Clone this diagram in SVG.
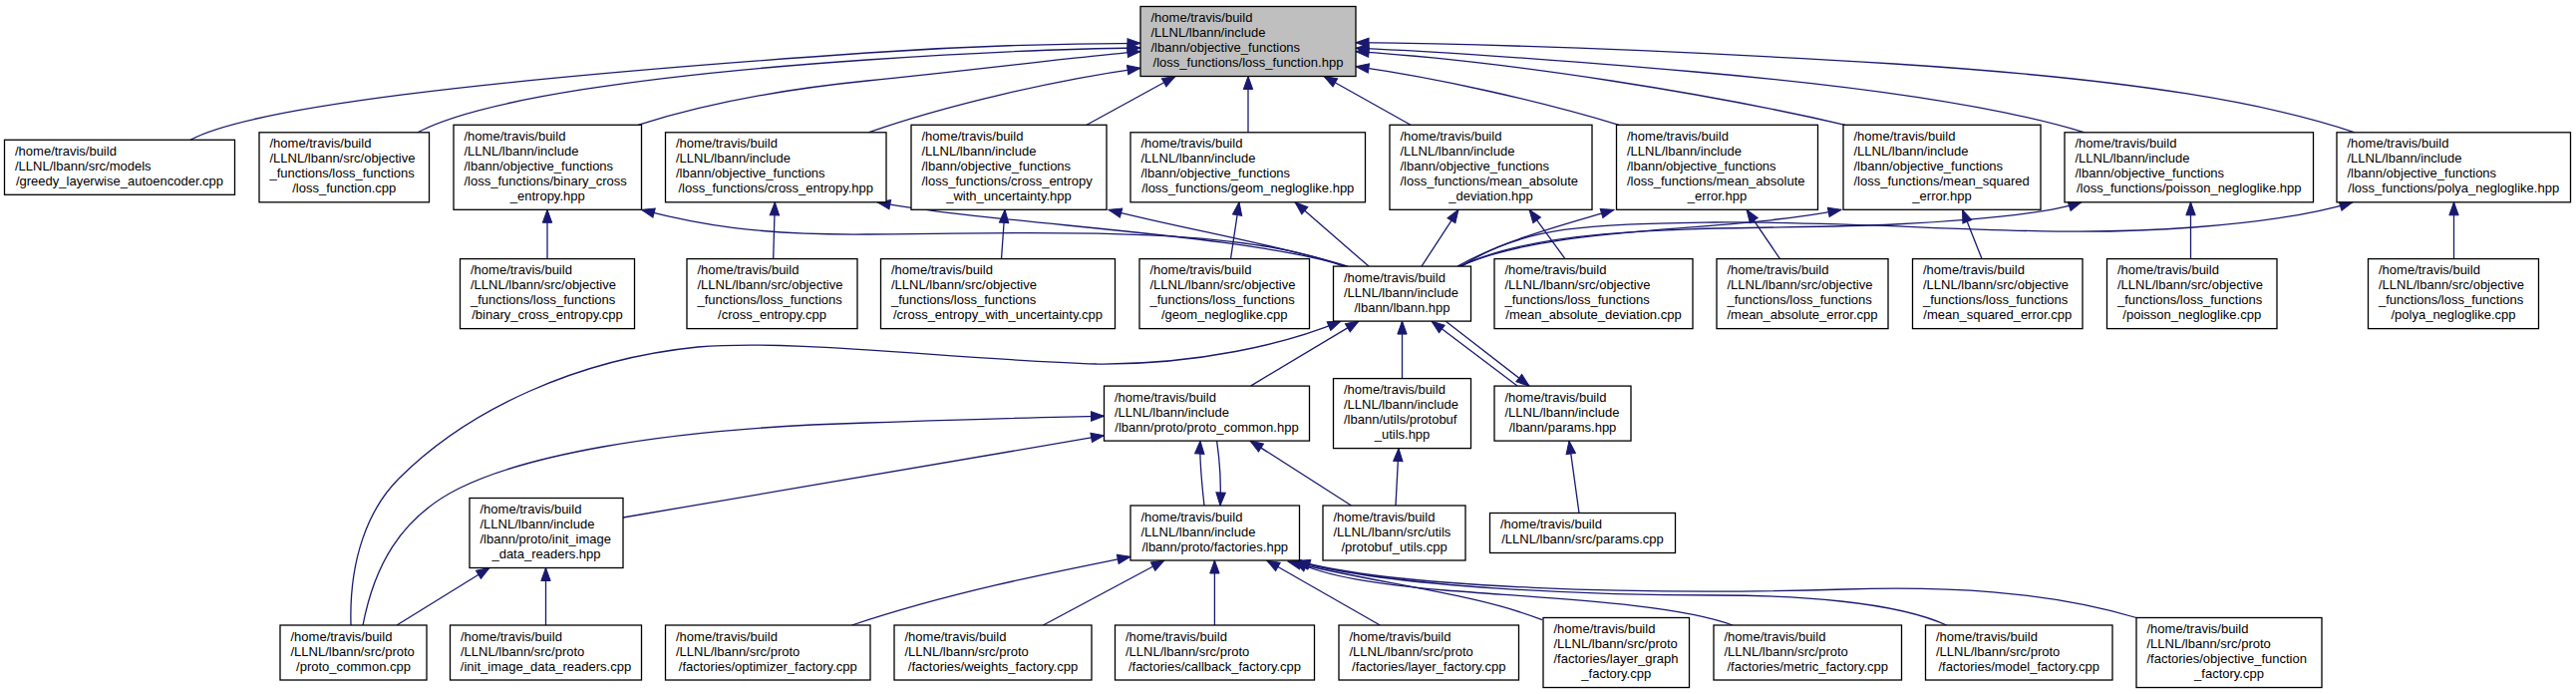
<svg xmlns="http://www.w3.org/2000/svg" width="2584" height="696" viewBox="0 0 2584 696">
<style>
.n rect{fill:#fff;stroke:#000;stroke-width:1.3}
.root rect{fill:#bfbfbf}
text{font-family:"Liberation Sans",Arial,Helvetica,sans-serif;font-size:13px;fill:#000}
.c{text-anchor:middle}
#edges path{fill:none;stroke:#191970;stroke-width:1.3;marker-end:url(#a)}
</style>
<defs>
<marker id="a" markerWidth="16" markerHeight="12" refX="13" refY="4.7" orient="auto" markerUnits="userSpaceOnUse" overflow="visible">
<path d="M0,0 L13,4.7 L0,9.4 z" fill="#191970" stroke="#191970" stroke-width="1"/>
</marker>
</defs>
<rect width="2584" height="696" fill="#fff"/>
<g id="edges">
<path d="M191,140.3 C250,108 480,80 870,53 C1000,44 1100,43.4 1144,43.3"/>
<path d="M419,132.8 C480,100 650,75 870,60 C990,52 1090,48.5 1144,48"/>
<path d="M640,125.3 C720,100 800,88 870,81 C980,70 1080,57 1144,51.7"/>
<path d="M871,132.8 C950,105 1060,80 1144,68.3"/>
<path d="M1090,125.3 L1179,76.5"/>
<path d="M1252,132.8 L1252,76.5"/>
<path d="M1415,125.3 L1328,76.5"/>
<path d="M1624,125.3 C1540,100 1440,78 1360,66.7"/>
<path d="M1851,125.3 C1720,95 1520,62 1360,51.7"/>
<path d="M2091,132.8 C2000,105 1850,85 1700,72 C1560,60 1440,51 1360,48.3"/>
<path d="M2362,132.8 C2280,105 2150,80 1900,64 C1700,52 1500,44 1360,42.7"/>
<path d="M549,259.6 L549,210.3"/>
<path d="M775.7,259.6 L777.3,202.8"/>
<path d="M1004.5,259.6 L1008,210.3"/>
<path d="M1234.5,259.6 L1243,202.8"/>
<path d="M1570,259.6 L1534,210.3"/>
<path d="M1785.5,259.6 L1752,210.3"/>
<path d="M1988,259.6 L1968.5,210.3"/>
<path d="M2197.5,259.6 L2197.5,202.8"/>
<path d="M2461.5,259.6 L2461.5,202.8"/>
<path d="M1348,267.1 C1250,230 1100,232 870,235 C760,236 700,225 643.5,210.3"/>
<path d="M1350,267.1 C1250,235 1000,225 880,202.8"/>
<path d="M1352,267.1 C1280,245 1180,228 1112,210.3"/>
<path d="M1373,267.1 L1299,202.8"/>
<path d="M1426,267.1 L1463,210.3"/>
<path d="M1462,267.1 C1510,240 1570,225 1619,210.3"/>
<path d="M1464,267.1 C1560,225 1720,235 1847,210.3"/>
<path d="M1465,267.1 C1560,220 1760,232 1900,225 C2000,220 2060,212 2088,202.8"/>
<path d="M1466,267.1 C1530,225 1600,225 1720,223 C1900,222 2050,240 2200,228 C2280,222 2330,212 2360,202.8"/>
<path d="M1254.5,387.1 L1363,322.1"/>
<path d="M352,627 C350,560 370,510 400,480 C470,410 580,360 700,348 C800,340 950,360 1100,365 C1200,366 1290,345 1345,322.1"/>
<path d="M1406.5,379.6 L1406.5,322.1"/>
<path d="M1522,387.1 L1436,322.1"/>
<path d="M1450,322.1 L1534,387.1"/>
<path d="M364,627 C375,570 400,520 460,490 C520,460 650,430 870,424 C960,421 1050,418 1107.5,417.3"/>
<path d="M398,627 L491,569.5"/>
<path d="M547.5,627 L547.5,569.5"/>
<path d="M625,519 L1107.5,436.7"/>
<path d="M1208,507 C1205,480 1203,460 1204,442.1"/>
<path d="M1220.6,442.1 C1224,465 1225,485 1224,507"/>
<path d="M1355.5,507 L1254,442.1"/>
<path d="M1400,507 L1403,449.6"/>
<path d="M1584,514.5 L1574,442.1"/>
<path d="M854.5,627 C950,595 1050,575 1134,558.3"/>
<path d="M1046.4,627 L1168,562"/>
<path d="M1218.4,627 L1218.4,562"/>
<path d="M1384.3,627 L1270.6,562"/>
<path d="M1547,621.7 C1480,595 1380,585 1292,563"/>
<path d="M1738,627 C1680,605 1550,600 1450,592 C1380,586 1330,578 1298,563"/>
<path d="M1952.6,627 C1900,603 1800,597 1720,597 C1600,597 1400,590 1300,563"/>
<path d="M2143,619.5 C2050,592 1950,588 1850,591 C1650,597 1400,590 1301,562.5"/>
</g>
<g id="n1" class="n root"><rect x="1144" y="6.5" width="216" height="70"/><text x="1154.5" y="22">/home/travis/build</text><text x="1154.5" y="37">/LLNL/lbann/include</text><text x="1154.5" y="52">/lbann/objective_functions</text><text class="c" x="1252" y="67">/loss_functions/loss_function.hpp</text></g>
<g id="n2" class="n"><rect x="4.5" y="140.3" width="231" height="55"/><text x="15" y="155.8">/home/travis/build</text><text x="15" y="170.8">/LLNL/lbann/src/models</text><text class="c" x="120" y="185.8">/greedy_layerwise_autoencoder.cpp</text></g>
<g id="n3" class="n"><rect x="260" y="132.8" width="170.5" height="70"/><text x="270.5" y="148.3">/home/travis/build</text><text x="270.5" y="163.3">/LLNL/lbann/src/objective</text><text x="270.5" y="178.3">_functions/loss_functions</text><text class="c" x="345.25" y="193.3">/loss_function.cpp</text></g>
<g id="n4" class="n"><rect x="455" y="125.3" width="188.5" height="85"/><text x="465.5" y="140.8">/home/travis/build</text><text x="465.5" y="155.8">/LLNL/lbann/include</text><text x="465.5" y="170.8">/lbann/objective_functions</text><text x="465.5" y="185.8">/loss_functions/binary_cross</text><text class="c" x="549.25" y="200.8">_entropy.hpp</text></g>
<g id="n5" class="n"><rect x="667.5" y="132.8" width="221.5" height="70"/><text x="678" y="148.3">/home/travis/build</text><text x="678" y="163.3">/LLNL/lbann/include</text><text x="678" y="178.3">/lbann/objective_functions</text><text class="c" x="778.25" y="193.3">/loss_functions/cross_entropy.hpp</text></g>
<g id="n6" class="n"><rect x="914" y="125.3" width="196" height="85"/><text x="924.5" y="140.8">/home/travis/build</text><text x="924.5" y="155.8">/LLNL/lbann/include</text><text x="924.5" y="170.8">/lbann/objective_functions</text><text x="924.5" y="185.8">/loss_functions/cross_entropy</text><text class="c" x="1012" y="200.8">_with_uncertainty.hpp</text></g>
<g id="n7" class="n"><rect x="1134" y="132.8" width="235.5" height="70"/><text x="1144.5" y="148.3">/home/travis/build</text><text x="1144.5" y="163.3">/LLNL/lbann/include</text><text x="1144.5" y="178.3">/lbann/objective_functions</text><text class="c" x="1251.75" y="193.3">/loss_functions/geom_negloglike.hpp</text></g>
<g id="n8" class="n"><rect x="1394" y="125.3" width="203" height="85"/><text x="1404.5" y="140.8">/home/travis/build</text><text x="1404.5" y="155.8">/LLNL/lbann/include</text><text x="1404.5" y="170.8">/lbann/objective_functions</text><text x="1404.5" y="185.8">/loss_functions/mean_absolute</text><text class="c" x="1495.5" y="200.8">_deviation.hpp</text></g>
<g id="n9" class="n"><rect x="1621.5" y="125.3" width="202" height="85"/><text x="1632" y="140.8">/home/travis/build</text><text x="1632" y="155.8">/LLNL/lbann/include</text><text x="1632" y="170.8">/lbann/objective_functions</text><text x="1632" y="185.8">/loss_functions/mean_absolute</text><text class="c" x="1722.5" y="200.8">_error.hpp</text></g>
<g id="n10" class="n"><rect x="1849" y="125.3" width="198" height="85"/><text x="1859.5" y="140.8">/home/travis/build</text><text x="1859.5" y="155.8">/LLNL/lbann/include</text><text x="1859.5" y="170.8">/lbann/objective_functions</text><text x="1859.5" y="185.8">/loss_functions/mean_squared</text><text class="c" x="1948" y="200.8">_error.hpp</text></g>
<g id="n11" class="n"><rect x="2071" y="132.8" width="249.5" height="70"/><text x="2081.5" y="148.3">/home/travis/build</text><text x="2081.5" y="163.3">/LLNL/lbann/include</text><text x="2081.5" y="178.3">/lbann/objective_functions</text><text class="c" x="2195.75" y="193.3">/loss_functions/poisson_negloglike.hpp</text></g>
<g id="n12" class="n"><rect x="2344" y="132.8" width="234.5" height="70"/><text x="2354.5" y="148.3">/home/travis/build</text><text x="2354.5" y="163.3">/LLNL/lbann/include</text><text x="2354.5" y="178.3">/lbann/objective_functions</text><text class="c" x="2461.25" y="193.3">/loss_functions/polya_negloglike.hpp</text></g>
<g id="n13" class="n"><rect x="461.5" y="259.6" width="175" height="70"/><text x="472" y="275.1">/home/travis/build</text><text x="472" y="290.1">/LLNL/lbann/src/objective</text><text x="472" y="305.1">_functions/loss_functions</text><text class="c" x="549" y="320.1">/binary_cross_entropy.cpp</text></g>
<g id="n14" class="n"><rect x="689" y="259.6" width="171" height="70"/><text x="699.5" y="275.1">/home/travis/build</text><text x="699.5" y="290.1">/LLNL/lbann/src/objective</text><text x="699.5" y="305.1">_functions/loss_functions</text><text class="c" x="774.5" y="320.1">/cross_entropy.cpp</text></g>
<g id="n15" class="n"><rect x="883.5" y="259.6" width="235" height="70"/><text x="894" y="275.1">/home/travis/build</text><text x="894" y="290.1">/LLNL/lbann/src/objective</text><text x="894" y="305.1">_functions/loss_functions</text><text class="c" x="1001" y="320.1">/cross_entropy_with_uncertainty.cpp</text></g>
<g id="n16" class="n"><rect x="1143" y="259.6" width="170.5" height="70"/><text x="1153.5" y="275.1">/home/travis/build</text><text x="1153.5" y="290.1">/LLNL/lbann/src/objective</text><text x="1153.5" y="305.1">_functions/loss_functions</text><text class="c" x="1228.25" y="320.1">/geom_negloglike.cpp</text></g>
<g id="n17" class="n"><rect x="1337.5" y="267.1" width="138" height="55"/><text x="1348" y="282.6">/home/travis/build</text><text x="1348" y="297.6">/LLNL/lbann/include</text><text class="c" x="1406.5" y="312.6">/lbann/lbann.hpp</text></g>
<g id="n18" class="n"><rect x="1499" y="259.6" width="199" height="70"/><text x="1509.5" y="275.1">/home/travis/build</text><text x="1509.5" y="290.1">/LLNL/lbann/src/objective</text><text x="1509.5" y="305.1">_functions/loss_functions</text><text class="c" x="1598.5" y="320.1">/mean_absolute_deviation.cpp</text></g>
<g id="n19" class="n"><rect x="1722" y="259.6" width="172" height="70"/><text x="1732.5" y="275.1">/home/travis/build</text><text x="1732.5" y="290.1">/LLNL/lbann/src/objective</text><text x="1732.5" y="305.1">_functions/loss_functions</text><text class="c" x="1808" y="320.1">/mean_absolute_error.cpp</text></g>
<g id="n20" class="n"><rect x="1918.5" y="259.6" width="170.5" height="70"/><text x="1929" y="275.1">/home/travis/build</text><text x="1929" y="290.1">/LLNL/lbann/src/objective</text><text x="1929" y="305.1">_functions/loss_functions</text><text class="c" x="2003.75" y="320.1">/mean_squared_error.cpp</text></g>
<g id="n21" class="n"><rect x="2113.5" y="259.6" width="170.5" height="70"/><text x="2124" y="275.1">/home/travis/build</text><text x="2124" y="290.1">/LLNL/lbann/src/objective</text><text x="2124" y="305.1">_functions/loss_functions</text><text class="c" x="2198.75" y="320.1">/poisson_negloglike.cpp</text></g>
<g id="n22" class="n"><rect x="2375.5" y="259.6" width="171" height="70"/><text x="2386" y="275.1">/home/travis/build</text><text x="2386" y="290.1">/LLNL/lbann/src/objective</text><text x="2386" y="305.1">_functions/loss_functions</text><text class="c" x="2461" y="320.1">/polya_negloglike.cpp</text></g>
<g id="n23" class="n"><rect x="1107.5" y="387.1" width="206" height="55"/><text x="1118" y="402.6">/home/travis/build</text><text x="1118" y="417.6">/LLNL/lbann/include</text><text class="c" x="1210.5" y="432.6">/lbann/proto/proto_common.hpp</text></g>
<g id="n24" class="n"><rect x="1337.5" y="379.6" width="138" height="70"/><text x="1348" y="395.1">/home/travis/build</text><text x="1348" y="410.1">/LLNL/lbann/include</text><text x="1348" y="425.1">/lbann/utils/protobuf</text><text class="c" x="1406.5" y="440.1">_utils.hpp</text></g>
<g id="n25" class="n"><rect x="1499" y="387.1" width="137" height="55"/><text x="1509.5" y="402.6">/home/travis/build</text><text x="1509.5" y="417.6">/LLNL/lbann/include</text><text class="c" x="1567.5" y="432.6">/lbann/params.hpp</text></g>
<g id="n26" class="n"><rect x="471" y="499.5" width="154" height="70"/><text x="481.5" y="515">/home/travis/build</text><text x="481.5" y="530">/LLNL/lbann/include</text><text x="481.5" y="545">/lbann/proto/init_image</text><text class="c" x="548" y="560">_data_readers.hpp</text></g>
<g id="n27" class="n"><rect x="1134" y="507" width="169.5" height="55"/><text x="1144.5" y="522.5">/home/travis/build</text><text x="1144.5" y="537.5">/LLNL/lbann/include</text><text class="c" x="1218.75" y="552.5">/lbann/proto/factories.hpp</text></g>
<g id="n28" class="n"><rect x="1327" y="507" width="143" height="55"/><text x="1337.5" y="522.5">/home/travis/build</text><text x="1337.5" y="537.5">/LLNL/lbann/src/utils</text><text class="c" x="1398.5" y="552.5">/protobuf_utils.cpp</text></g>
<g id="n29" class="n"><rect x="1494.5" y="514.5" width="186" height="40"/><text x="1505" y="530">/home/travis/build</text><text class="c" x="1587.5" y="545">/LLNL/lbann/src/params.cpp</text></g>
<g id="n30" class="n"><rect x="281" y="627" width="147" height="55"/><text x="291.5" y="642.5">/home/travis/build</text><text x="291.5" y="657.5">/LLNL/lbann/src/proto</text><text class="c" x="354.5" y="672.5">/proto_common.cpp</text></g>
<g id="n31" class="n"><rect x="451.5" y="627" width="192" height="55"/><text x="462" y="642.5">/home/travis/build</text><text x="462" y="657.5">/LLNL/lbann/src/proto</text><text class="c" x="547.5" y="672.5">/init_image_data_readers.cpp</text></g>
<g id="n32" class="n"><rect x="667.5" y="627" width="205.5" height="55"/><text x="678" y="642.5">/home/travis/build</text><text x="678" y="657.5">/LLNL/lbann/src/proto</text><text class="c" x="770.25" y="672.5">/factories/optimizer_factory.cpp</text></g>
<g id="n33" class="n"><rect x="897" y="627" width="198" height="55"/><text x="907.5" y="642.5">/home/travis/build</text><text x="907.5" y="657.5">/LLNL/lbann/src/proto</text><text class="c" x="996" y="672.5">/factories/weights_factory.cpp</text></g>
<g id="n34" class="n"><rect x="1118.5" y="627" width="200" height="55"/><text x="1129" y="642.5">/home/travis/build</text><text x="1129" y="657.5">/LLNL/lbann/src/proto</text><text class="c" x="1218.5" y="672.5">/factories/callback_factory.cpp</text></g>
<g id="n35" class="n"><rect x="1343" y="627" width="180.5" height="55"/><text x="1353.5" y="642.5">/home/travis/build</text><text x="1353.5" y="657.5">/LLNL/lbann/src/proto</text><text class="c" x="1433.25" y="672.5">/factories/layer_factory.cpp</text></g>
<g id="n36" class="n"><rect x="1548" y="619.5" width="146.5" height="70"/><text x="1558.5" y="635">/home/travis/build</text><text x="1558.5" y="650">/LLNL/lbann/src/proto</text><text x="1558.5" y="665">/factories/layer_graph</text><text class="c" x="1621.25" y="680">_factory.cpp</text></g>
<g id="n37" class="n"><rect x="1719" y="627" width="188.5" height="55"/><text x="1729.5" y="642.5">/home/travis/build</text><text x="1729.5" y="657.5">/LLNL/lbann/src/proto</text><text class="c" x="1813.25" y="672.5">/factories/metric_factory.cpp</text></g>
<g id="n38" class="n"><rect x="1931.5" y="627" width="187.5" height="55"/><text x="1942" y="642.5">/home/travis/build</text><text x="1942" y="657.5">/LLNL/lbann/src/proto</text><text class="c" x="2025.25" y="672.5">/factories/model_factory.cpp</text></g>
<g id="n39" class="n"><rect x="2143" y="619.5" width="186" height="70"/><text x="2153.5" y="635">/home/travis/build</text><text x="2153.5" y="650">/LLNL/lbann/src/proto</text><text x="2153.5" y="665">/factories/objective_function</text><text class="c" x="2236" y="680">_factory.cpp</text></g>
</svg>
